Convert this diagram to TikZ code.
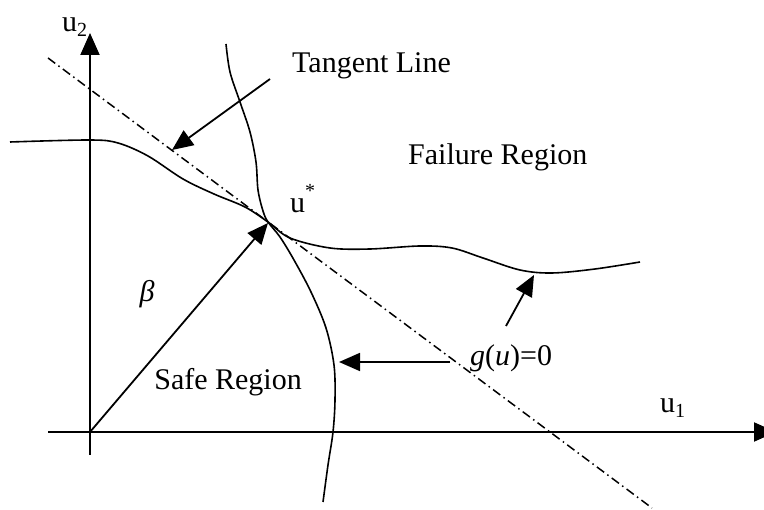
\documentclass[tikz,border=0pt]{standalone}
\usepackage{fontspec}
\setmainfont{Liberation Serif}
\usetikzlibrary{arrows.meta}
\begin{document}
\begin{tikzpicture}[x=1pt,y=-1pt,
  lbl/.style={inner sep=0pt, font=\fontsize{30}{36}\selectfont},
  curve/.style={line width=1.6pt},
  axis/.style={line width=2pt, -{Triangle[length=22pt,width=19pt]}},
  ptr/.style={line width=1.8pt, -{Triangle[length=21pt,width=18pt]}},
  tangent/.style={line width=1.5pt, dash pattern=on 9pt off 4pt on 1.5pt off 4pt}]
\useasboundingbox (0,0) rectangle (764,510);
% axes
\coordinate (o) at (90,432);
\coordinate (yb) at (90,455);
\coordinate (yt) at (90,33);
\coordinate (xl) at (48,432);
\coordinate (xr) at (776,432);
\draw[axis] (yb) -- (yt);
\draw[axis] (xl) -- (xr);
% tangent line
\coordinate (t1) at (48,58);
\coordinate (t2) at (652,508);
\draw[tangent] (t1) -- (t2);
% limit state curves
\draw[curve] plot[smooth, tension=0.55] coordinates {(10,142) (90,140) (118,143) (148,156) (183,179) (214,194) (245,207) (268,222) (290,238) (330,248) (370,249) (420,246) (452,248) (483,258) (520,270) (552,273) (595,269) (640,262)};
\draw[curve] plot[smooth, tension=0.55] coordinates {(226,44) (230,72) (240,102) (250,132) (256,162) (258,190) (263,211) (268,222) (280,237) (294,260) (311,292) (326,328) (334,365) (335,400) (333,432) (328,465) (323,502)};
% beta vector
\coordinate (us) at (268,223);
\draw[ptr] (o) -- (us);
% labels
\node[lbl, anchor=base west] (u2) at (62,32) {u\raisebox{-0.3ex}{\fontsize{20}{20}\selectfont 2}};
\node[lbl, anchor=base west] (u1) at (660,413) {u\raisebox{-0.3ex}{\fontsize{20}{20}\selectfont 1}};
\node[lbl, anchor=base west] (tl) at (292,73) {Tangent Line};
\node[lbl, anchor=base west] (fr) at (408,165) {Failure Region};
\node[lbl, anchor=base west] (ustar) at (290,213) {u\raisebox{1.1ex}{\fontsize{20}{20}\selectfont *}};
\node[lbl] (beta) at (147,294) {\textit{β}};
\node[lbl, anchor=base east] (sr) at (302,390) {Safe Region};
\node[lbl, anchor=base west] (g) at (470,366) {\textit{g}(\textit{u})=0};
% pointer arrows
\coordinate (ta1) at (270,79);
\coordinate (ta2) at (172,150);
\draw[ptr] (ta1) -- (ta2);
\coordinate (ga1) at (450,362);
\coordinate (ga2) at (339,362);
\draw[ptr] (ga1) -- (ga2);
\coordinate (gb1) at (506,326);
\coordinate (gb2) at (534,275);
\draw[ptr] (gb1) -- (gb2);
\end{tikzpicture}
\end{document}
